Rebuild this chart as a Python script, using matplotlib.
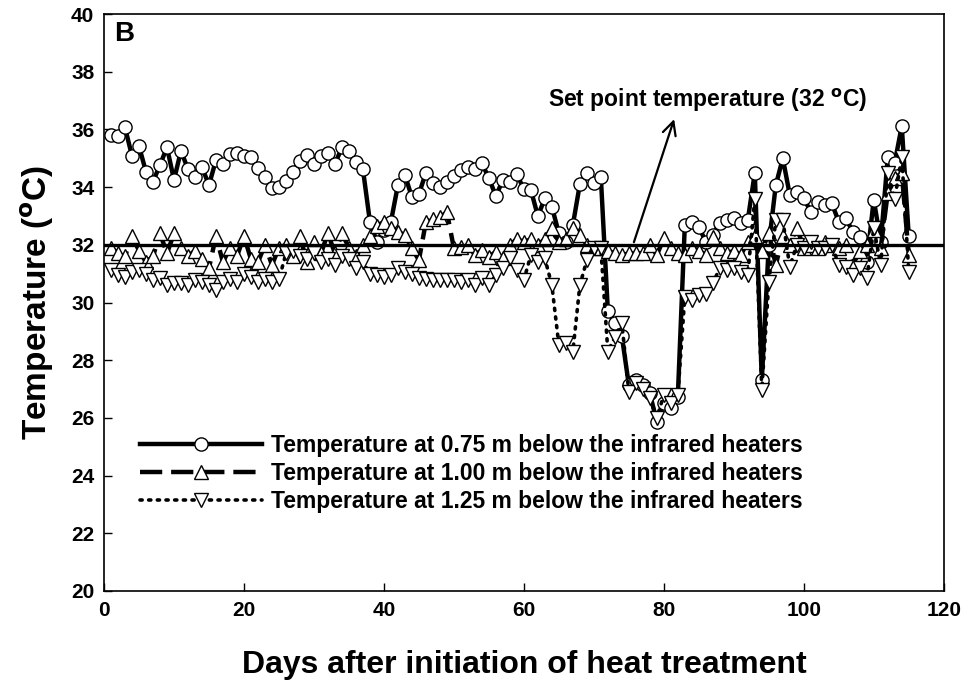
import matplotlib
matplotlib.use("Agg")
import matplotlib.pyplot as plt
import numpy as np

plt.rcParams['font.family'] = ['Liberation Sans', 'DejaVu Sans']
plt.rcParams['font.weight'] = 'bold'
plt.rcParams['mathtext.default'] = 'bf'

days = list(range(1, 116))

t075 = [35.8, 35.77, 36.07, 35.08, 35.42, 34.53, 34.19, 34.77, 35.38, 34.25,
        35.26, 34.62, 34.36, 34.69, 34.07, 34.94, 34.8, 35.15, 35.19, 35.08,
        35.05, 34.65, 34.36, 33.96, 33.99, 34.22, 34.53, 34.92, 35.11, 34.8,
        35.08, 35.19, 34.8, 35.38, 35.26, 34.88, 34.62, 32.8, 32.1, 32.5,
        32.8, 34.07, 34.42, 33.65, 33.76, 34.5, 34.15, 33.99, 34.19, 34.38,
        34.59, 34.69, 34.62, 34.83, 34.31, 33.69, 34.25, 34.19, 34.45, 33.92,
        33.9, 33.0, 33.61, 33.32, 32.4, 32.1, 32.69, 34.1, 34.5, 34.13,
        34.34, 29.72, 29.3, 28.84, 27.14, 27.3, 27.14, 26.85, 25.87, 26.5,
        26.33, 26.74, 32.69, 32.8, 32.63, 32.1, 32.34, 32.77, 32.86, 32.92,
        32.74, 32.86, 34.5, 27.31, 32.0, 34.07, 35.0, 33.73, 33.84, 33.61,
        33.15, 33.5, 33.38, 33.44, 32.8, 32.92, 32.46, 32.28, 31.41, 33.57,
        32.1, 35.03, 34.85, 36.12, 32.3]

t100 = [31.9, 31.7, 31.6, 32.3, 31.8, 31.4, 31.6, 32.4, 31.7, 32.4,
        31.9, 31.6, 31.8, 31.5, 31.2, 32.3, 31.4, 31.9, 31.6, 32.3,
        31.5, 31.4, 32.0, 31.3, 31.9, 32.0, 31.6, 32.3, 31.4, 32.1,
        31.7, 32.4, 31.7, 32.4, 31.9, 31.6, 32.0, 32.3, 32.67, 32.79,
        32.6, 32.45, 32.34, 31.88, 31.47, 32.79, 32.9, 32.96, 33.13, 31.88,
        31.94, 32.0, 31.65, 31.82, 31.59, 31.76, 31.53, 32.0, 32.2, 32.1,
        32.2, 32.0, 32.2, 32.6, 32.1, 32.2, 32.6, 32.35, 32.0, 31.9,
        31.88, 31.8, 31.7, 31.65, 31.7, 31.7, 31.7, 32.0, 31.65, 32.22,
        31.88, 31.7, 31.65, 31.9, 31.8, 31.65, 32.27, 31.9, 31.7, 31.8,
        31.65, 32.1, 32.3, 31.8, 32.4, 31.3, 32.3, 32.0, 32.6, 31.9,
        32.0, 31.9, 32.1, 32.0, 31.9, 32.0, 31.3, 31.8, 32.0, 32.5,
        31.9, 33.8, 34.3, 34.5, 31.65]

t125 = [31.13, 30.95, 30.9, 31.07, 31.13, 31.0, 30.78, 30.84, 30.6, 30.66,
        30.66, 30.6, 30.78, 30.72, 30.6, 30.43, 30.72, 30.8, 30.7, 31.0,
        30.9, 30.7, 30.8, 30.7, 30.8, 31.7, 31.8, 31.6, 31.5, 31.7,
        31.4, 31.5, 31.3, 31.6, 31.5, 31.2, 31.4, 31.0, 30.95, 30.9,
        30.95, 31.2, 31.07, 31.0, 30.84, 30.8, 30.78, 30.78, 30.78, 30.78,
        30.72, 30.78, 30.6, 30.84, 30.6, 30.95, 31.2, 31.53, 31.13, 30.78,
        31.65, 31.41, 31.53, 30.6, 28.53, 28.6, 28.3, 30.6, 31.47, 31.9,
        31.88, 28.3, 28.8, 29.3, 26.9, 27.2, 27.0, 26.7, 26.0, 26.8,
        26.5, 26.8, 30.2, 30.09, 30.26, 30.3, 30.67, 31.19, 31.13, 31.19,
        31.07, 30.95, 33.6, 26.97, 30.7, 32.86, 32.86, 31.24, 32.0, 31.9,
        32.1, 31.9, 31.88, 32.0, 31.3, 31.24, 30.95, 31.2, 30.84, 32.57,
        31.3, 34.48, 33.6, 35.05, 31.07]

labels = ["Temperature at 0.75 m below the infrared heaters",
          "Temperature at 1.00 m below the infrared heaters",
          "Temperature at 1.25 m below the infrared heaters"]
set_point = 32
x_ticks = [0, 20, 40, 60, 80, 100, 120]
y_ticks = [20, 22, 24, 26, 28, 30, 32, 34, 36, 38, 40]

fig = plt.figure(figsize=(9.63, 6.86), dpi=100)
ax = fig.add_axes([0.108, 0.1385, 0.872, 0.841])

ms = 9.5
ax.plot(days, t075, '-', color='black', lw=3.2, marker='o', ms=ms,
        mfc='white', mec='black', mew=1.0, label=labels[0], zorder=3)
ax.plot(days, t100, color='black', lw=3.2, ls=(0, (5, 2)), marker='^', ms=ms,
        mfc='white', mec='black', mew=1.0, label=labels[1], zorder=4)
ax.plot(days, t125, color='black', lw=2.6, ls=(0, (0.6, 1.8)),
        dash_capstyle='round', marker='v', ms=ms,
        mfc='white', mec='black', mew=1.0, label=labels[2], zorder=5)
ax.axhline(set_point, color='black', lw=2.4, zorder=6)

ax.annotate('', xy=(81.6, 36.45), xytext=(75.6, set_point),
            arrowprops=dict(arrowstyle='->', color='black', lw=1.6,
                            mutation_scale=24), zorder=7)
ax.text(86.3, 37.0, r'Set point temperature (32 $^{\mathbf{o}}$C)',
        ha='center', va='center', fontsize=16.5, fontweight='bold')
ax.text(0.012, 0.988, 'B', transform=ax.transAxes, ha='left', va='top',
        fontsize=20, fontweight='bold')

ax.set_xlim(0, 120)
ax.set_ylim(20, 40)
ax.set_xticks(x_ticks)
ax.set_yticks(y_ticks)
ax.tick_params(direction='in', length=6, width=1.0, labelsize=15,
               top=False, right=False, pad=7)
for lab in ax.get_xticklabels() + ax.get_yticklabels():
    lab.set_fontweight('bold')
for s in ax.spines.values():
    s.set_linewidth(1.2)

ax.set_xlabel('Days after initiation of heat treatment', fontsize=23,
              fontweight='bold', labelpad=22)
ax.set_ylabel('Temperature ($^{\\mathbf{o}}$C)', fontsize=24,
              fontweight='bold', labelpad=11)

leg = ax.legend(loc='upper left', bbox_to_anchor=(0.043, 0.272), frameon=False,
                fontsize=16.5, handlelength=5.3, handletextpad=0.42,
                labelspacing=0.21, numpoints=1, borderaxespad=0, borderpad=0)
for t in leg.get_texts():
    t.set_fontweight('bold')

fig.savefig('out.png', dpi=100)
